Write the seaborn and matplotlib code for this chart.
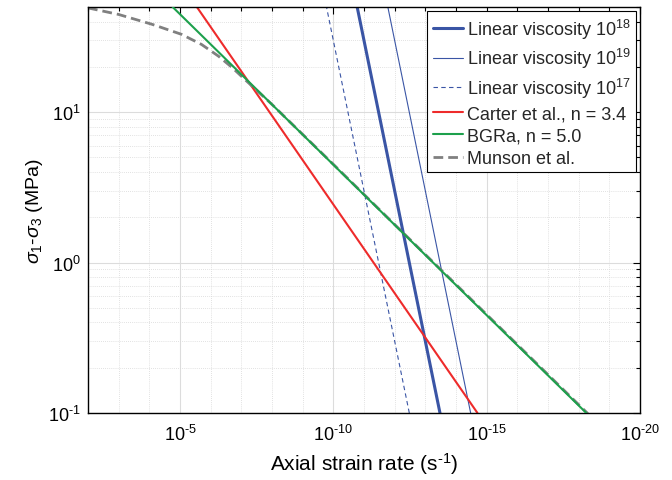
import numpy as np
import pandas as pd
import matplotlib
matplotlib.use("Agg")
import matplotlib.pyplot as plt
import matplotlib.ticker as mticker
import seaborn as sns

# ---- data ----
stress_ends = [0.1, 50.0]                     # MPa
visc18_rate = [3.33e-14, 1.67e-11]            # s^-1
visc19_rate = [3.33e-15, 1.67e-12]
visc17_rate = [3.33e-13, 1.67e-10]
carter_rate = [10**-14.7, 10**-5.55]
bgra_rate = [10**-18.25, 10**-4.76]

munson_rate = [10**-2.0, 10**-3.0, 10**-4.1, 10**-5.05, 10**-5.7, 10**-6.25,
               10**-6.7, 10**-7.1, 10**-8.0, 10**-10.0, 10**-12.0, 10**-14.0,
               10**-16.0, 10**-18.3]
munson_stress = [49.3, 44.6, 38.3, 32.9, 28.2, 23.6, 19.8, 16.6, 11.25, 4.5,
                 1.79, 0.715, 0.285, 0.099]

labels = [r"Linear viscosity 10$^{18}$", r"Linear viscosity 10$^{19}$",
          r"Linear viscosity 10$^{17}$", "Carter et al., n = 3.4",
          "BGRa, n = 5.0", "Munson et al."]

xmajor = [1e-5, 1e-10, 1e-15, 1e-20]
xmajor_labels = [r"10$^{\text{-5}}$", r"10$^{\text{-10}}$", r"10$^{\text{-15}}$", r"10$^{\text{-20}}$"]
ymajor = [0.1, 1.0, 10.0]
ymajor_labels = [r"10$^{\text{-1}}$", r"10$^{0}$", r"10$^{1}$"]

# ---- style ----
sns.set_theme(style="white")
plt.rcParams["font.family"] = ["Liberation Sans", "DejaVu Sans"]
plt.rcParams["mathtext.fontset"] = "custom"
plt.rcParams["mathtext.rm"] = "Liberation Sans"
plt.rcParams["mathtext.it"] = "Liberation Sans:italic"
plt.rcParams["mathtext.bf"] = "Liberation Sans:bold"
plt.rcParams["axes.unicode_minus"] = False

blue = "#3A55A5"
red = "#EE2B2B"
green = "#1DA04C"
gray = "#808080"

fig = plt.figure(figsize=(6.72, 4.81), dpi=100)
ax = fig.add_axes([88/672, 1-414/481, (640-88)/672, (414-8)/481])

def seg(rate, stress):
    return pd.DataFrame({"rate": rate, "stress": stress})

sns.lineplot(data=seg(visc18_rate, stress_ends), x="rate", y="stress", ax=ax,
             color=blue, lw=2.2, label=labels[0], estimator=None, sort=False)
sns.lineplot(data=seg(visc19_rate, stress_ends), x="rate", y="stress", ax=ax,
             color=blue, lw=0.8, label=labels[1], estimator=None, sort=False)
sns.lineplot(data=seg(visc17_rate, stress_ends), x="rate", y="stress", ax=ax,
             color=blue, lw=0.8, ls=(0, (4, 3)), label=labels[2], estimator=None, sort=False)
sns.lineplot(data=seg(carter_rate, stress_ends), x="rate", y="stress", ax=ax,
             color=red, lw=1.5, label=labels[3], estimator=None, sort=False)
sns.lineplot(data=seg(munson_rate, munson_stress), x="rate", y="stress", ax=ax,
             color=gray, lw=2.0, ls=(0, (3.5, 1.8)), label=labels[5], estimator=None,
             sort=False, zorder=2)
sns.lineplot(data=seg(bgra_rate, stress_ends), x="rate", y="stress", ax=ax,
             color=green, lw=1.5, label=labels[4], estimator=None, sort=False, zorder=3)

ax.set_xscale("log")
ax.set_yscale("log")
ax.set_xlim(1e-2, 1e-20)
ax.set_ylim(0.1, 50)

ax.xaxis.set_major_locator(mticker.FixedLocator(xmajor))
ax.xaxis.set_major_formatter(mticker.FixedFormatter(xmajor_labels))
ax.xaxis.set_minor_locator(mticker.FixedLocator([10.0**(-k) for k in range(2, 21)]))
ax.xaxis.set_minor_formatter(mticker.NullFormatter())
ax.yaxis.set_major_locator(mticker.FixedLocator(ymajor))
ax.yaxis.set_major_formatter(mticker.FixedFormatter(ymajor_labels))
ax.yaxis.set_minor_locator(mticker.LogLocator(base=10, subs=np.arange(2, 10), numticks=20))
ax.yaxis.set_minor_formatter(mticker.NullFormatter())

ax.tick_params(which="both", direction="in", top=True, right=True, colors="black",
               labelsize=13, width=0.8)
ax.tick_params(which="major", length=5)
ax.tick_params(which="minor", length=3)
ax.tick_params(axis="x", pad=8)
ax.tick_params(axis="y", pad=5)

ax.grid(which="major", color="#dcdcdc", lw=0.8, ls="-")
ax.grid(which="minor", color="#d8d8d8", lw=0.6, ls=(0, (1, 1.5)))
ax.set_axisbelow(True)
for s in ax.spines.values():
    s.set_color("black")
    s.set_linewidth(1.0)

ax.set_xlabel(r"Axial strain rate (s$^{\text{-1}}$)", fontsize=15, color="black", labelpad=4)
ax.set_ylabel(r"$\sigma_1$-$\sigma_3$ (MPa)", fontsize=14, color="black", labelpad=2)

handles, labs = ax.get_legend_handles_labels()
order = [labs.index(l) for l in labels]
leg = ax.legend([handles[i] for i in order], [labs[i] for i in order],
                loc="upper right", bbox_to_anchor=(0.993, 0.99), fontsize=13,
                frameon=True, fancybox=False, framealpha=1, edgecolor="black",
                handlelength=1.7, handletextpad=0.2, borderpad=0.3, labelspacing=0.3,
                borderaxespad=0)
leg.get_frame().set_linewidth(0.8)

fig.savefig("out.png", dpi=100)
